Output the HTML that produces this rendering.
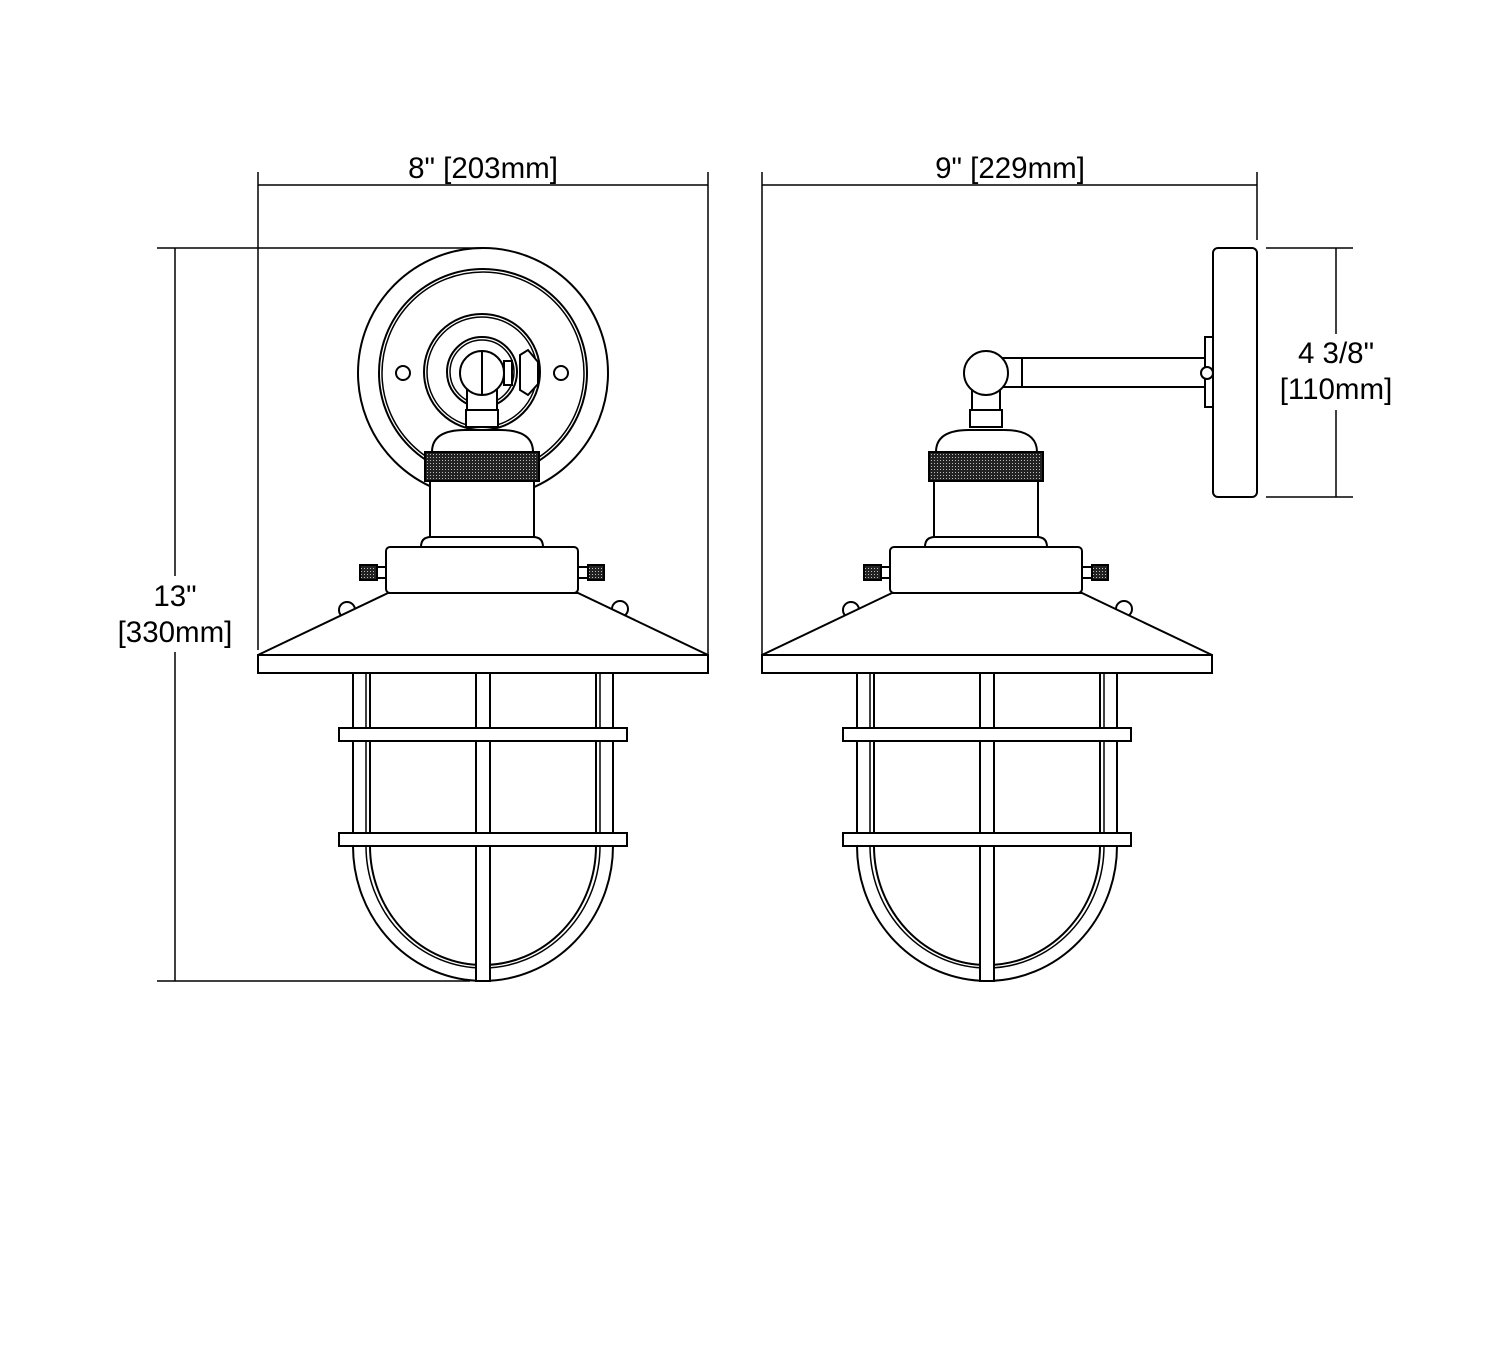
<!DOCTYPE html>
<html><head><style>body{margin:0;background:#fff}svg{display:block}</style></head><body>
<svg width="1500" height="1365" viewBox="0 0 1500 1365" xmlns="http://www.w3.org/2000/svg">
<defs>
<pattern id="kn" width="3" height="3" patternUnits="userSpaceOnUse"><rect width="3" height="3" fill="#222"/><rect x="1" y="1" width="1" height="1" fill="#bbb"/></pattern>
<g id="lamp" fill="#fff" stroke="#000" stroke-width="2">
  <path d="M353,846 A130,135 0 0 0 613,846 L596,846 A113,119 0 0 1 370,846 Z"/>
  <path d="M366,846 A117,122 0 0 0 600,846" fill="none" stroke-width="1.5"/>
  <rect x="353" y="673" width="17" height="173"/>
  <line x1="366" y1="673" x2="366" y2="846" stroke-width="1.5"/>
  <rect x="596" y="673" width="17" height="173"/>
  <line x1="600" y1="673" x2="600" y2="846" stroke-width="1.5"/>
  <rect x="476" y="673" width="14" height="308"/>
  <rect x="339" y="728" width="288" height="13"/>
  <rect x="339" y="833" width="288" height="13"/>
  <circle cx="347" cy="610" r="8"/><circle cx="620" cy="609" r="8"/>
  <path d="M388,593 L258,655 L708,655 L578,593 Z"/>
  <rect x="258" y="655" width="450" height="18"/>
  <rect x="377" y="567" width="10" height="11"/><rect x="360" y="565" width="17" height="15" fill="url(#kn)"/>
  <rect x="578" y="567" width="10" height="11"/><rect x="588" y="565" width="16" height="15" fill="url(#kn)"/>
  <rect x="386" y="547" width="192" height="46" rx="4"/>
  <path d="M421,547 Q421,537 431,537 L533,537 Q543,537 543,547 Z"/>
  <rect x="430" y="481" width="104" height="56"/>
  <path d="M432,452 Q432,430 465,430 L500,430 Q533,430 533,452 Z"/>
  <rect x="425" y="452" width="114" height="29" fill="url(#kn)"/>
</g>
</defs>
<g font-family="Liberation Sans, sans-serif" font-size="29.5" text-anchor="middle" fill="#000">
<g fill="#fff" stroke="#000" stroke-width="2">
  <circle cx="483" cy="373" r="125"/>
  <circle cx="483" cy="373" r="104"/>
  <circle cx="483" cy="373" r="101" stroke-width="1.5"/>
  <circle cx="403" cy="373" r="7"/><circle cx="561" cy="373" r="7"/>
  <circle cx="482" cy="372" r="58"/><circle cx="482" cy="372" r="55" stroke-width="1.5"/>
  <circle cx="482" cy="372" r="35"/><circle cx="482" cy="372" r="32" stroke-width="1.5"/>
  <path d="M520,355 L528,350 L538,362 L538,384 L528,395 L520,390 Z"/>
  <rect x="504" y="361" width="8" height="24"/>
  <rect x="467" y="390" width="30" height="20"/>
  <rect x="466" y="410" width="32" height="17"/>
  <circle cx="482" cy="373" r="22"/>
  <line x1="482" y1="351" x2="482" y2="395"/>
</g>
<use href="#lamp"/>
<g fill="#fff" stroke="#000" stroke-width="2">
  <rect x="1213" y="248" width="44" height="249" rx="5"/>
  <rect x="1205" y="337" width="8" height="70"/>
  <rect x="999" y="358" width="206" height="29"/>
  <line x1="1022" y1="358" x2="1022" y2="387"/>
  <circle cx="1207" cy="373" r="6"/>
  <rect x="972" y="390" width="28" height="20"/>
  <rect x="970" y="410" width="32" height="17"/>
  <circle cx="986" cy="373" r="22"/>
</g>
<use href="#lamp" transform="translate(504,0)"/>
<g stroke="#000" stroke-width="1.5" fill="none">
  <line x1="258" y1="185" x2="708" y2="185"/>
  <line x1="258" y1="172" x2="258" y2="650"/>
  <line x1="708" y1="172" x2="708" y2="655"/>
  <line x1="762" y1="185" x2="1257" y2="185"/>
  <line x1="762" y1="172" x2="762" y2="655"/>
  <line x1="1257" y1="172" x2="1257" y2="240"/>
  <line x1="175" y1="248" x2="175" y2="576"/>
  <line x1="175" y1="652" x2="175" y2="981"/>
  <line x1="157" y1="248" x2="483" y2="248"/>
  <line x1="157" y1="981" x2="470" y2="981"/>
  <line x1="1336" y1="248" x2="1336" y2="334"/>
  <line x1="1336" y1="410" x2="1336" y2="497"/>
  <line x1="1266" y1="248" x2="1353" y2="248"/>
  <line x1="1266" y1="497" x2="1353" y2="497"/>
</g>
<text x="483" y="178">8" [203mm]</text>
<text x="1010" y="178">9" [229mm]</text>
<text x="175" y="606">13"</text>
<text x="175" y="642">[330mm]</text>
<text x="1336" y="363">4 3/8"</text>
<text x="1336" y="399">[110mm]</text>
</g>
</svg>
</body></html>
